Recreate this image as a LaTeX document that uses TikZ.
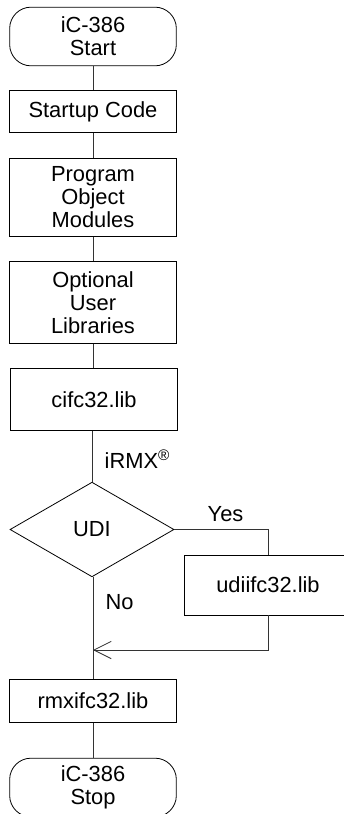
\documentclass[tikz,border=0pt]{standalone}
\usepackage{fontspec}
\setmainfont{Liberation Sans}
\usetikzlibrary{shapes.geometric,arrows.meta}

\begin{document}
\begin{tikzpicture}[x=0.75pt,y=-0.75pt,
        every node/.style={font=\fontsize{16.4}{17.2}\selectfont},
        block/.style={rectangle,draw,line width=0.6pt,minimum width=125pt,align=center,inner sep=0pt},
        terminal/.style={block,rounded corners=16pt,minimum height=44pt},
        decision/.style={diamond,draw,line width=0.6pt,minimum width=123pt,minimum height=71pt,inner sep=0pt},
        link/.style={draw=black!80,line width=0.6pt}]
            \useasboundingbox (0, 0) rectangle (343, 814);

            \node[terminal] (start) at (93, 36.5) {iC-386\\Start};
            \node[block,minimum height=32pt] (startup) at (93, 111.5) {Startup Code};
            \node[block,minimum height=58pt] (objects) at (93, 197.5) {Program\\Object\\Modules};
            \node[block,minimum height=61pt] (userlibs) at (93, 302.5) {Optional\\User\\Libraries};
            \node[block,minimum height=46pt] (cifc) at (94, 399.5) {cifc32.lib};
            \node[decision] (udi) at (92, 529.5) {UDI};
            \node[block,minimum height=45pt] (udiifc) at (268, 585) {udiifc32.lib};
            \coordinate (merge) at (93, 650);
            \node[block,minimum height=32pt] (rmxifc) at (93, 701) {rmxifc32.lib};
            \node[terminal] (stop) at (93, 787.5) {iC-386\\Stop};

            \node[anchor=west] (irmx) at (100, 459) {iRMX\textsuperscript{\textregistered}};
            \node[anchor=west] (yes) at (203, 514) {Yes};
            \node[anchor=west] (no) at (101, 602) {No};

            \draw[link] (start) -- (startup);
            \draw[link] (startup) -- (objects);
            \draw[link] (objects) -- (userlibs);
            \draw[link] (userlibs) -- (userlibs |- cifc.north);
            \draw[link] (cifc.south -| udi.north) -- (udi.north);
            \draw[link] (udi.east) -| (udiifc.north);
            \draw[link] (udi.south -| merge) -- (rmxifc.north -| merge);
            \draw[link,-{Straight Barb[length=13pt,width=13pt]}] (udiifc.south) |- (merge);
            \draw[link] (rmxifc) -- (stop);
        \end{tikzpicture}
\end{document}
